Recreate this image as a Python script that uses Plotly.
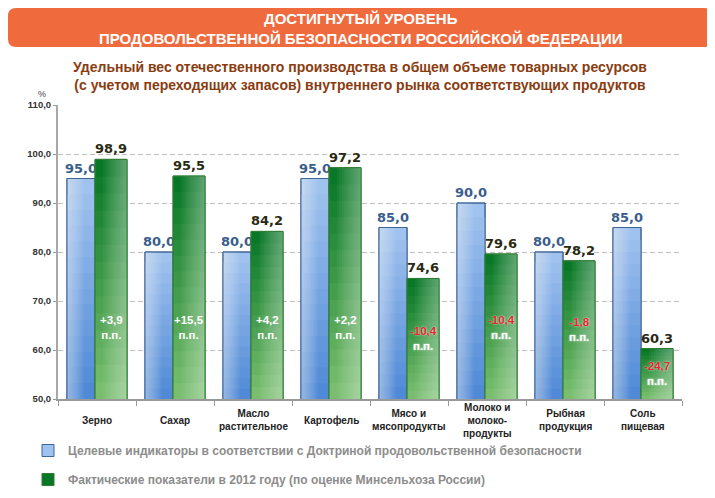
import plotly.graph_objects as go

categories = ["Зерно", "Сахар", "Масло растительное", "Картофель", "Мясо и мясопродукты",
              "Молоко и молокопродукты", "Рыбная продукция", "Соль пищевая"]
cat_labels = ["Зерно", "Сахар", "Масло<br>растительное", "Картофель", "Мясо и<br>мясопродукты",
              "Молоко и<br>молоко-<br>продукты", "Рыбная<br>продукция", "Соль<br>пищевая"]
target = [95.0, 80.0, 80.0, 95.0, 85.0, 90.0, 80.0, 85.0]
actual = [98.9, 95.5, 84.2, 97.2, 74.6, 79.6, 78.2, 60.3]
name_target = "Целевые индикаторы в соответствии с Доктриной продовольственной безопасности"
name_actual = "Фактические показатели в 2012 году (по оценке Минсельхоза России)"
y_ticks = [50, 60, 70, 80, 90, 100, 110]

# the page body adds an 8px offset; the figure is sized to fill the rest of the window
PAGE_OFF = 8
W, H = 715 - PAGE_OFF, 498 - PAGE_OFF
PLOT_L, PLOT_R, PLOT_T, PLOT_B = 58, 682, 105, 399  # in window pixels
ML = PLOT_L - PAGE_OFF
MT = PLOT_T - PAGE_OFF
MR = W - (PLOT_R - PAGE_OFF)
MB = H - (PLOT_B - PAGE_OFF)
PW, PH = PLOT_R - PLOT_L, PLOT_B - PLOT_T
YMIN, YMAX = 50, 110


def px(x):
    return (x - PLOT_L) / PW


def py(y):
    return (PLOT_B - y) / PH


def fmt(v):
    return f"{v:.1f}".replace(".", ",")


def lerp(c1, c2, t):
    return tuple(round(a + (b - a) * t) for a, b in zip(c1, c2))


def rgb(c):
    return f"rgb({c[0]},{c[1]},{c[2]})"


fig = go.Figure()
NV, NH = 14, 10


def add_series(values, off, w, top_c, bot_c, line_c, white_side, max_alpha, name, text_color, lg):
    # vertical gradient layers (nested, opaque)
    for k in range(NV):
        frac = 1 - k / NV
        col = lerp(top_c, bot_c, k / (NV - 1))
        fig.add_trace(go.Bar(
            x=categories, y=[YMIN + (v - YMIN) * frac for v in values],
            offset=off, width=w, name=name,
            marker=dict(color=rgb(col), line=dict(color=line_c, width=1 if k == 0 else 0)),
            showlegend=(k == 0), legendgroup=lg, hoverinfo="skip"))
    # horizontal highlight layers (nested, translucent white)
    a = max_alpha / NH
    for k in range(NH):
        if white_side == "left":
            o, ww = off, w * (1 - k / NH) * 0.6
        else:
            o, ww = off + w * (0.25 + 0.75 * k / NH), w * (0.75 - 0.75 * k / NH)
        fig.add_trace(go.Bar(
            x=categories, y=values, offset=o, width=ww,
            marker=dict(color=f"rgba(255,255,255,{a:.3f})", line=dict(width=0)),
            showlegend=False, legendgroup=lg, hoverinfo="skip"))
    # outline + value label
    fig.add_trace(go.Bar(
        x=categories, y=values, offset=off, width=w,
        marker=dict(color="rgba(0,0,0,0)", line=dict(color=line_c, width=1)),
        text=[fmt(v) for v in values], textposition="outside", constraintext="none",
        cliponaxis=False,
        textfont=dict(family="DejaVu Sans", size=13, color=text_color, weight="bold"),
        showlegend=False, legendgroup=lg, hoverinfo="skip"))


B_OFF, B_W = -0.385, 0.36
G_OFF, G_W = -0.025, 0.41
add_series(target, B_OFF, B_W, (160, 194, 238), (80, 138, 214), "#3f6596", "left", 0.5,
           name_target, "#3a5d8c", "a")
add_series(actual, G_OFF, G_W, (8, 120, 38), (120, 190, 110), "#2f7d35", "right", 0.45,
           name_actual, "#2a2a12", "b")

annotations = []
# inner difference labels
g_center_px = (G_OFF + G_W / 2) * PW / len(categories)
for c, t, a_ in zip(categories, target, actual):
    d = a_ - t
    s = ("+" if d >= 0 else "") + fmt(d)
    ycen = min(64.5, (a_ + YMIN) / 2)
    if d >= 0:
        txt = f"{s}<br>п.п."
    else:
        txt = f"<span style='color:#e8252a'>{s}</span><br>п.п."
    annotations.append(dict(
        x=c, y=ycen, xref="x", yref="y", xshift=g_center_px, text=txt, showarrow=False,
        align="center", yanchor="middle",
        font=dict(family="Liberation Sans", size=11.5, color="white", weight="bold",
                  shadow="0px 0px 2px rgba(255,255,255,0.9)" if d < 0 else "none")))

# category labels
for c, lab in zip(categories, cat_labels):
    annotations.append(dict(
        x=c, y=py(420), xref="x", yref="paper", text=lab, showarrow=False,
        yanchor="middle", align="center",
        font=dict(family="Liberation Sans", size=10, color="#222222", weight="bold")))

# titles
annotations += [
    dict(x=px(360), y=py(28), xref="paper", yref="paper", showarrow=False,
         text="ДОСТИГНУТЫЙ УРОВЕНЬ<br>ПРОДОВОЛЬСТВЕННОЙ БЕЗОПАСНОСТИ РОССИЙСКОЙ ФЕДЕРАЦИИ",
         font=dict(family="Liberation Sans", size=15, color="white", weight="bold"),
         align="center", yanchor="middle"),
    dict(x=px(360), y=py(76), xref="paper", yref="paper", showarrow=False,
         text="Удельный вес отечественного производства в общем объеме товарных ресурсов<br>"
              "(с учетом переходящих запасов) внутреннего рынка соответствующих продуктов",
         font=dict(family="Liberation Sans", size=14, color="#8a3c10", weight="bold"),
         align="center", yanchor="middle"),
    dict(x=px(42), y=py(94), xref="paper", yref="paper", showarrow=False, text="%",
         font=dict(family="Liberation Sans", size=9, color="#444444"),
         xanchor="center", yanchor="middle"),
]

# rounded banner (window pixels)
x0, x1, y0, y1, r = 8, 712, 8, 47, 8
path = (f"M{px(x0 + r)},{py(y0)} L{px(x1 - r)},{py(y0)} Q{px(x1)},{py(y0)} {px(x1)},{py(y0 + r)} "
        f"L{px(x1)},{py(y1 - r)} Q{px(x1)},{py(y1)} {px(x1 - r)},{py(y1)} "
        f"L{px(x0 + r)},{py(y1)} Q{px(x0)},{py(y1)} {px(x0)},{py(y1 - r)} "
        f"L{px(x0)},{py(y0 + r)} Q{px(x0)},{py(y0)} {px(x0 + r)},{py(y0)} Z")
shapes = [dict(type="path", path=path, xref="paper", yref="paper",
               fillcolor="#ef6a3d", line=dict(width=0), layer="below")]

fig.update_layout(
    width=W, height=H, margin=dict(l=ML, r=MR, t=MT, b=MB, autoexpand=False),
    paper_bgcolor="white", plot_bgcolor="white",
    barmode="overlay", separators=", ",
    font=dict(family="Liberation Sans"),
    xaxis=dict(type="category", range=[-0.5, 7.5], tickson="boundaries", ticks="outside",
               ticklen=5, tickcolor="#999999", showticklabels=False, showline=True,
               linecolor="#999999", linewidth=1.5, showgrid=False),
    yaxis=dict(range=[YMIN, YMAX], tickvals=y_ticks, ticktext=[fmt(v) for v in y_ticks],
               ticks="outside", ticklen=3, tickcolor="#999999",
               showline=True, linecolor="#a8a8a8", linewidth=2,
               showgrid=True, gridcolor="#bdbdbd", griddash="5px,3px", gridwidth=1,
               zeroline=False,
               tickfont=dict(family="Liberation Sans", size=9.5, color="#333333", weight="bold")),
    legend=dict(x=px(28), y=py(436), xanchor="left", yanchor="top", orientation="v",
                tracegroupgap=10, bgcolor="rgba(0,0,0,0)",
                font=dict(family="Liberation Sans", size=12, color="#8c8c8c", weight="bold")),
    annotations=annotations, shapes=shapes,
)

fig.write_html("out.html")
